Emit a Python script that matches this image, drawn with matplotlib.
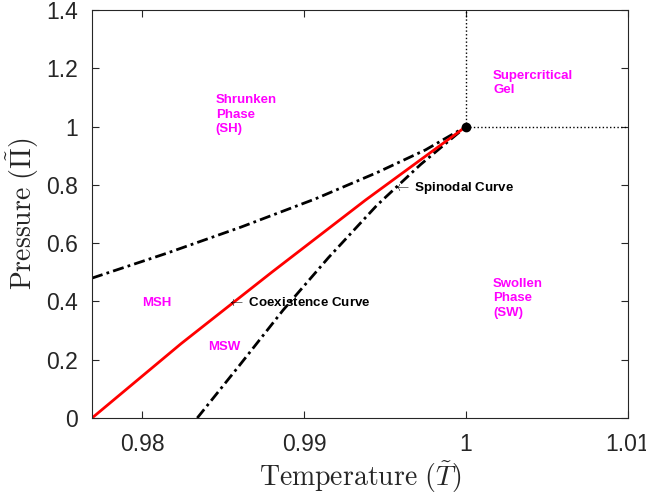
import matplotlib
matplotlib.use('Agg')
import matplotlib.pyplot as plt
import numpy as np

plt.rcParams['font.family'] = 'Liberation Sans'
plt.rcParams['mathtext.fontset'] = 'cm'

# coexistence curve (red)
coex_T = [0.9769, 0.9824, 0.9880, 0.9938, 1.0]
coex_P = [0.0, 0.255, 0.500, 0.748, 1.0]

# spinodal of the shrunken phase (upper dash-dot)
spin_sh_T = [0.9769, 0.9815, 0.9861, 0.9907, 0.9945, 0.9975, 1.0]
spin_sh_P = [0.480, 0.565, 0.655, 0.752, 0.842, 0.920, 1.0]

# spinodal of the swollen phase (lower dash-dot)
spin_sw_T = [0.9834, 0.9860, 0.9887, 0.9915, 0.9945, 0.9972, 1.0]
spin_sw_P = [0.0, 0.18, 0.37, 0.55, 0.73, 0.87, 1.0]

crit_T, crit_P = 1.0, 1.0

grey = '#262626'
magenta = '#ff00ff'

fig = plt.figure(figsize=(6.46, 4.98), dpi=100)
ax = fig.add_axes([0.1424, 0.1606, 0.8296, 0.8194])

dashdot = (0, (4, 1.5, 1, 1.5))
ax.plot(spin_sh_T, spin_sh_P, color='k', lw=2, linestyle=dashdot)
ax.plot(spin_sw_T, spin_sw_P, color='k', lw=2, linestyle=dashdot)
ax.plot(coex_T, coex_P, color='red', lw=2)
ax.plot([crit_T, crit_T], [crit_P, 1.4], color='k', lw=1, linestyle=':')
ax.plot([crit_T, 1.01], [crit_P, crit_P], color='k', lw=1, linestyle=':')
ax.plot(crit_T, crit_P, 'o', color='k', markersize=6)

ax.set_xlim(0.9769, 1.01)
ax.set_ylim(0, 1.4)
ax.set_xticks([0.98, 0.99, 1.0, 1.01])
ax.set_xticklabels(['0.98', '0.99', '1', '1.01'])
ax.set_yticks([0, 0.2, 0.4, 0.6, 0.8, 1.0, 1.2, 1.4])
ax.set_yticklabels(['0', '0.2', '0.4', '0.6', '0.8', '1', '1.2', '1.4'])
ax.tick_params(direction='in', top=True, right=True, length=5, width=0.8,
               colors=grey, labelsize=16.5)
ax.tick_params(axis='x', pad=11)
ax.tick_params(axis='y', pad=10)
for s in ax.spines.values():
    s.set_color(grey)
    s.set_linewidth(0.8)

ax.set_xlabel(r'$\mathrm{Temperature}\ (\tilde{T})$', fontsize=20,
              color=grey, labelpad=2)
ax.set_ylabel(r'$\mathrm{Pressure}\ (\tilde{\Pi})$', fontsize=20,
              color=grey, labelpad=4)

kw = dict(color=magenta, fontsize=9.5, fontweight='bold', va='top', linespacing=1.25)
ax.text(0.98455, 1.11, 'Shrunken\nPhase\n(SH)', **kw)
ax.text(1.00167, 1.195, 'Supercritical\nGel', **kw)
ax.text(1.00167, 0.48, 'Swollen\nPhase\n(SW)', **kw)
ax.text(0.98, 0.395, 'MSH', color=magenta, fontsize=9.5, fontweight='bold', va='center')
ax.text(0.98405, 0.243, 'MSW', color=magenta, fontsize=9.5, fontweight='bold', va='center')

ax.text(0.98525, 0.395, r'$\leftarrow$ Coexistence Curve', fontsize=9.6,
        fontweight='bold', va='center', color='k')
ax.text(0.9955, 0.79, r'$\leftarrow$ Spinodal Curve', fontsize=9.6,
        fontweight='bold', va='center', color='k')

fig.savefig('out.png', dpi=100)
